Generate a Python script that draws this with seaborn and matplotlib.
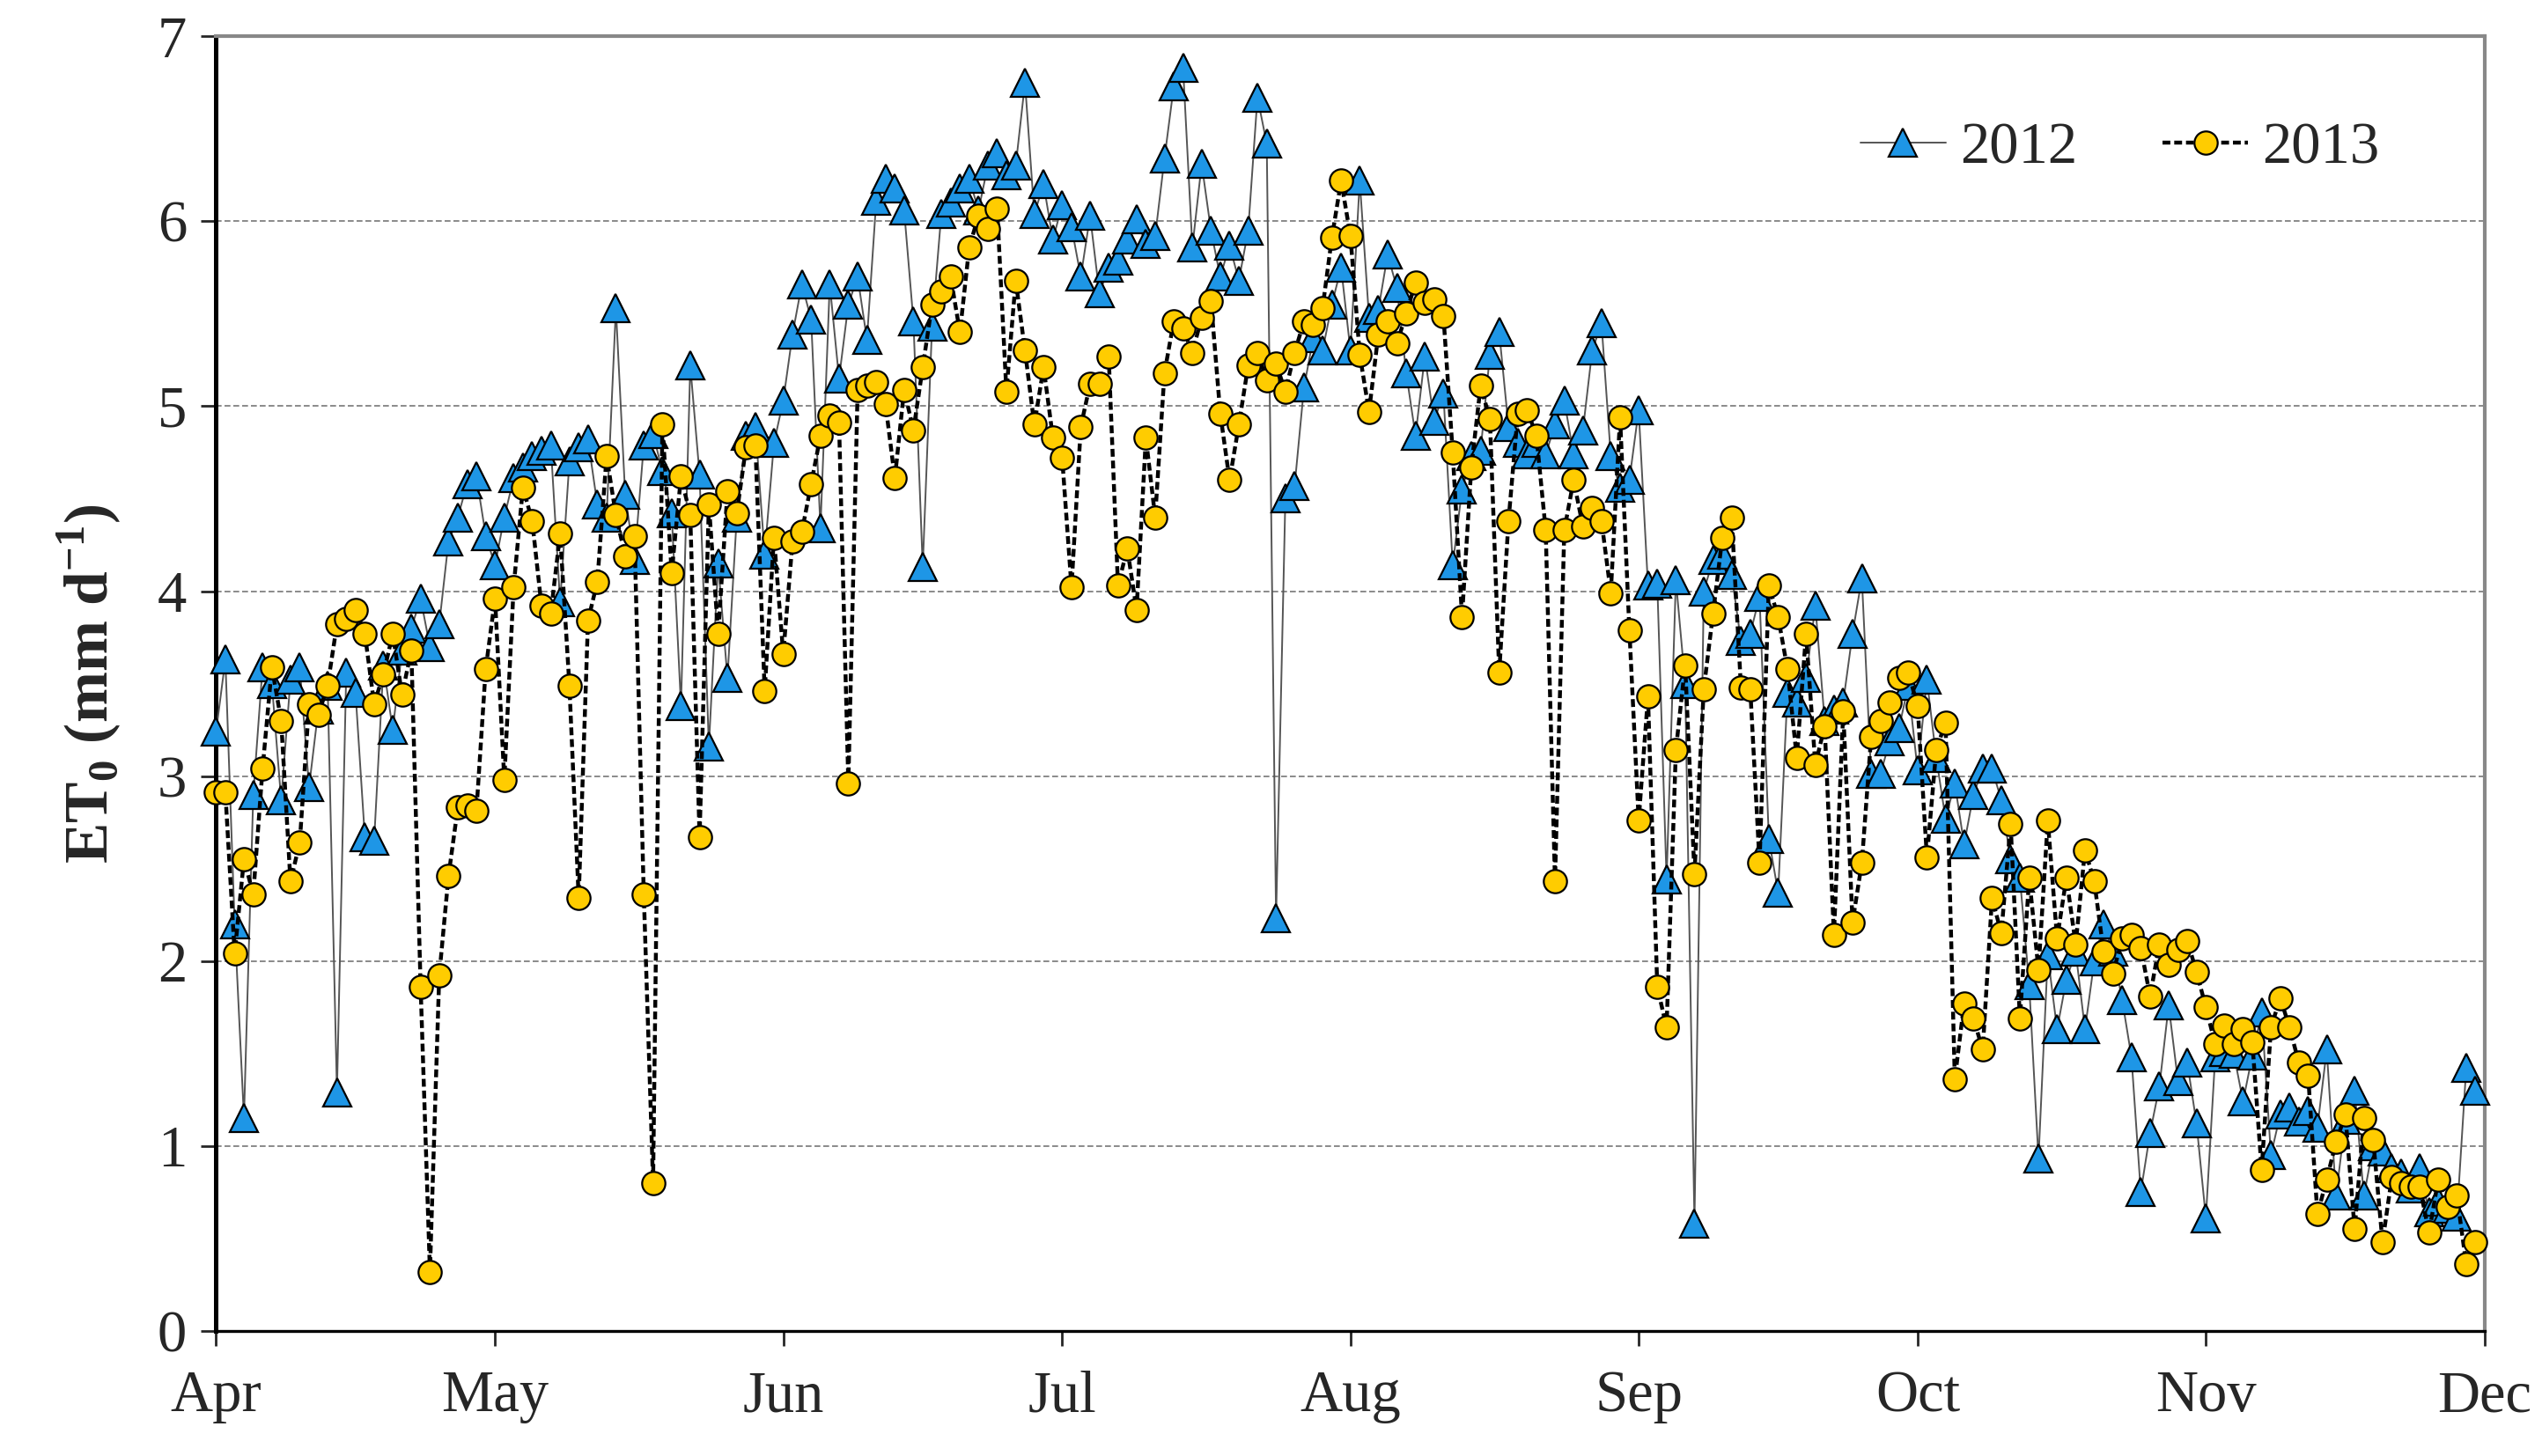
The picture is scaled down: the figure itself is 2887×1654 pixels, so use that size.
import numpy as np
import pandas as pd
import seaborn as sns
import matplotlib.pyplot as plt
import matplotlib.dates as mdates

# daily ET0 (mm/d), 1 Apr - 30 Nov
et0_2012 = [
    3.24, 3.63, 2.20, 1.15, 2.90, 3.59, 3.50, 2.87, 3.52, 3.59,
    2.94, 3.36, 3.49, 1.29, 3.56, 3.45, 2.67, 2.65, 3.60, 3.25,
    3.68, 3.80, 3.96, 3.70, 3.82, 4.27, 4.40, 4.58, 4.62, 4.30,
    4.14, 4.40, 4.61, 4.67, 4.73, 4.76, 4.79, 3.94, 4.70, 4.78,
    4.82, 4.47, 4.40, 5.53, 4.52, 4.17, 4.79, 4.85, 4.65, 4.42,
    3.38, 5.22, 4.63, 3.16, 4.15, 3.53, 4.40, 4.84, 4.89, 4.20,
    4.80, 5.03, 5.39, 5.66, 5.47, 4.34, 5.66, 5.15, 5.55, 5.70,
    5.36, 6.11, 6.23, 6.18, 6.06, 5.46, 4.13, 5.43, 6.04, 6.10,
    6.18, 6.23, 6.06, 6.30, 6.37, 6.25, 6.30, 6.75, 6.04, 6.20,
    5.90, 6.09, 5.97, 5.70, 6.03, 5.61, 5.75, 5.79, 5.90, 6.01,
    5.88, 5.92, 6.34, 6.73, 6.83, 5.86, 6.31, 5.95, 5.70, 5.87,
    5.68, 5.95, 6.67, 6.42, 2.23, 4.50, 4.57, 5.10, 5.37, 5.30,
    5.55, 5.75, 5.30, 6.22, 5.48, 5.52, 5.82, 5.64, 5.18, 4.84,
    5.27, 4.92, 5.07, 4.14, 4.55, 4.73, 4.76, 5.28, 5.40, 4.89,
    4.80, 4.74, 4.80, 4.74, 4.90, 5.03, 4.74, 4.87, 5.30, 5.45,
    4.73, 4.56, 4.60, 4.98, 4.03, 4.04, 2.44, 4.06, 3.50, 0.58,
    4.00, 4.17, 4.20, 4.09, 3.73, 3.77, 3.97, 2.66, 2.37, 3.45,
    3.40, 3.53, 3.92, 3.30, 3.36, 3.40, 3.77, 4.07, 3.01, 3.01,
    3.19, 3.26, 3.49, 3.03, 3.52, 3.10, 2.77, 2.96, 2.63, 2.90,
    3.04, 3.04, 2.87, 2.55, 2.45, 1.87, 0.93, 2.03, 1.63, 1.90,
    2.05, 1.63, 2.00, 2.20, 2.05, 1.79, 1.48, 0.75, 1.07, 1.32,
    1.76, 1.35, 1.45, 1.12, 0.61, 1.48, 1.51, 1.50, 1.24, 1.49,
    1.72, 0.95, 1.17, 1.21, 1.13, 1.19, 1.10, 1.52, 0.73, 1.14,
    1.30, 0.73, 1.00, 0.97, 0.88, 0.85, 0.77, 0.88, 0.64, 0.70,
    0.66, 0.62, 1.42, 1.30,
]
et0_2013 = [
    2.91, 2.91, 2.04, 2.55, 2.36, 3.04, 3.59, 3.30, 2.43, 2.64,
    3.39, 3.33, 3.49, 3.82, 3.85, 3.90, 3.77, 3.39, 3.55, 3.77,
    3.44, 3.68, 1.86, 0.32, 1.92, 2.46, 2.83, 2.84, 2.81, 3.58,
    3.96, 2.98, 4.02, 4.56, 4.38, 3.92, 3.88, 4.31, 3.49, 2.34,
    3.84, 4.05, 4.73, 4.41, 4.19, 4.30, 2.36, 0.80, 4.90, 4.10,
    4.62, 4.41, 2.67, 4.47, 3.77, 4.54, 4.42, 4.78, 4.79, 3.46,
    4.29, 3.66, 4.27, 4.32, 4.58, 4.84, 4.95, 4.91, 2.96, 5.09,
    5.11, 5.13, 5.01, 4.61, 5.09, 4.87, 5.21, 5.55, 5.62, 5.70,
    5.40, 5.86, 6.03, 5.96, 6.07, 5.08, 5.68, 5.30, 4.90, 5.21,
    4.83, 4.72, 4.02, 4.89, 5.12, 5.12, 5.27, 4.03, 4.23, 3.90,
    4.83, 4.40, 5.18, 5.46, 5.42, 5.29, 5.48, 5.57, 4.96, 4.60,
    4.90, 5.22, 5.29, 5.14, 5.23, 5.08, 5.29, 5.46, 5.44, 5.53,
    5.91, 6.22, 5.92, 5.28, 4.97, 5.39, 5.46, 5.34, 5.50, 5.67,
    5.56, 5.58, 5.49, 4.75, 3.86, 4.67, 5.11, 4.93, 3.56, 4.38,
    4.96, 4.98, 4.84, 4.33, 2.43, 4.33, 4.60, 4.35, 4.45, 4.38,
    3.99, 4.94, 3.79, 2.76, 3.43, 1.86, 1.64, 3.14, 3.60, 2.47,
    3.47, 3.88, 4.29, 4.40, 3.48, 3.47, 2.53, 4.03, 3.86, 3.58,
    3.10, 3.77, 3.06, 3.27, 2.14, 3.35, 2.21, 2.53, 3.21, 3.30,
    3.40, 3.53, 3.56, 3.38, 2.56, 3.14, 3.29, 1.36, 1.77, 1.69,
    1.52, 2.34, 2.15, 2.74, 1.69, 2.45, 1.95, 2.76, 2.12, 2.45,
    2.09, 2.60, 2.43, 2.05, 1.93, 2.12, 2.14, 2.07, 1.81, 2.09,
    1.98, 2.06, 2.11, 1.94, 1.75, 1.55, 1.65, 1.55, 1.63, 1.56,
    0.87, 1.64, 1.80, 1.64, 1.45, 1.38, 0.63, 0.82, 1.02, 1.17,
    0.55, 1.15, 1.03, 0.48, 0.83, 0.80, 0.78, 0.78, 0.53, 0.82,
    0.67, 0.73, 0.36, 0.48,
]
month_labels = ["Apr", "May", "Jun", "Jul", "Aug", "Sep", "Oct", "Nov", "Dec"]

dates = pd.date_range("2013-04-01", periods=len(et0_2013), freq="D")
df12 = pd.DataFrame({"date": dates[:len(et0_2012)], "et0": et0_2012})
df13 = pd.DataFrame({"date": dates, "et0": et0_2013})

sns.set_style("white")
plt.rcParams['font.family'] = ['Liberation Serif', 'DejaVu Serif']
plt.rcParams['mathtext.fontset'] = 'custom'
plt.rcParams['mathtext.rm'] = 'Liberation Serif'
plt.rcParams['mathtext.bf'] = 'Liberation Serif:bold'

fig = plt.figure(figsize=(14.435, 8.27), dpi=200)
ax = fig.add_axes([0.085, 0.086, 0.8925, 0.889])

sns.lineplot(data=df12, x="date", y="et0", ax=ax, color="#555555", lw=0.7,
             marker="^", markersize=11.5, markerfacecolor="#1E96E6",
             markeredgecolor="black", markeredgewidth=0.8, label="2012",
             clip_on=False, zorder=3)
sns.lineplot(data=df13, x="date", y="et0", ax=ax, color="black", lw=1.6,
             linestyle=(0, (2, 1)), marker="o", markersize=9.5,
             markerfacecolor="#FFCC00", markeredgecolor="black",
             markeredgewidth=0.8, label="2013", clip_on=False, zorder=4)

ax.set_xlim(pd.Timestamp("2013-04-01"), pd.Timestamp("2013-12-01"))
ax.set_ylim(0, 7)
ticks = pd.date_range("2013-04-01", "2013-12-01", freq="MS")
ax.set_xticks(ticks)
ax.set_xticklabels(month_labels, fontsize=24)
ax.set_yticks(range(8))
ax.tick_params(axis="y", labelsize=24, length=6, width=1, direction="out", left=True, pad=6)
ax.tick_params(axis="x", length=6, width=1, direction="out", bottom=True, pad=10)

for y in range(1, 7):
    ax.axhline(y, color="#777777", lw=0.6, ls=(0, (4, 2)), zorder=1)

for side in ["top", "right"]:
    ax.spines[side].set_color("#888888")
    ax.spines[side].set_linewidth(1.5)
ax.spines["left"].set_color("black")
ax.spines["left"].set_linewidth(1.8)
ax.spines["bottom"].set_color("black")
ax.spines["bottom"].set_linewidth(1.2)

ax.set_xlabel("")
ax.set_ylabel(r"ET$_\mathbf{0}$ (mm d$^\mathbf{-1}$)", fontsize=25, fontweight="bold", labelpad=14)

ax.legend(loc="upper right", bbox_to_anchor=(0.977, 0.975), ncol=2, frameon=False,
          fontsize=24, handlelength=1.45, columnspacing=1.45, handletextpad=0.25)

fig.savefig("out.png", dpi=200)
